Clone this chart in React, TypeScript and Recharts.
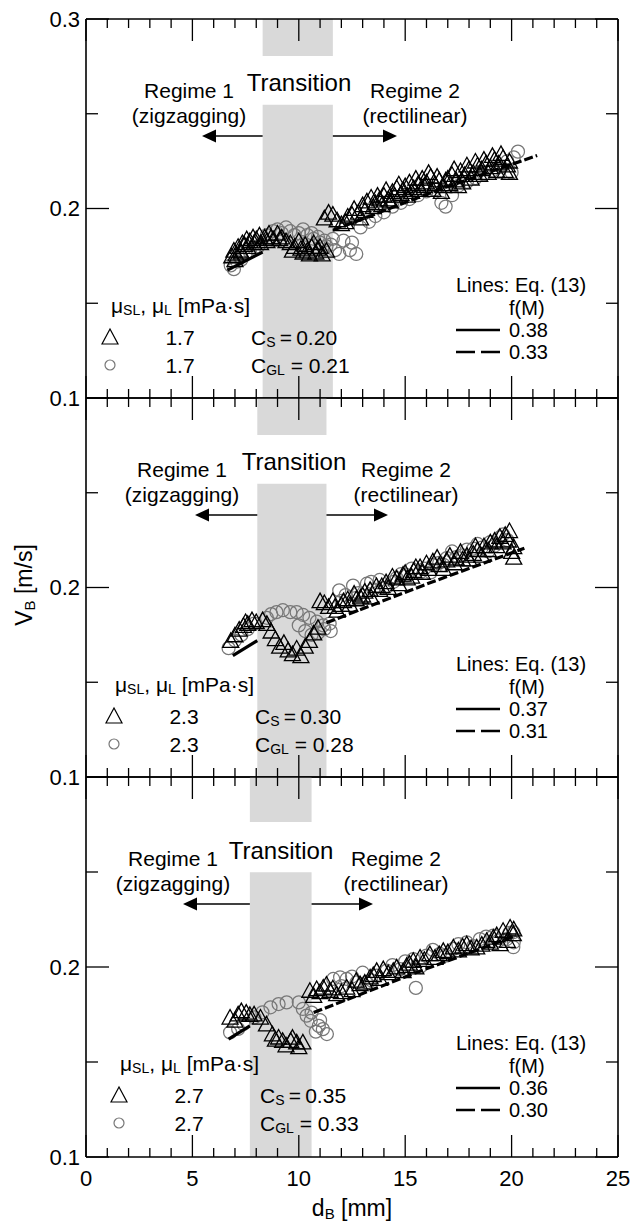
import React from 'react'
import { ScatterChart, Scatter, XAxis, YAxis, ReferenceArea } from 'recharts'

type Pt = [number, number]

const FONT = '"Liberation Sans", Arial, Helvetica, sans-serif'

// axis ticks: minor every 1 mm / 0.05 m/s, labels on the major ones
const X_TICKS = [0, 1, 2, 3, 4, 5, 6, 7, 8, 9, 10, 11, 12, 13, 14, 15, 16, 17, 18, 19, 20, 21, 22, 23, 24, 25]
const X_LABELS = [0, 5, 10, 15, 20, 25]
const Y_TICKS = [0.1, 0.15, 0.2, 0.25, 0.3]
const Y_LABELS = [0.1, 0.2]

// panel 1: μSL = μL = 1.7 mPa·s
const tri1: Pt[] = [
  [6.85, 0.174], [6.95, 0.177], [7.0, 0.172], [7.05, 0.175], [7.15, 0.179], [7.25, 0.177], [7.3, 0.176],
  [7.35, 0.181], [7.45, 0.18], [7.55, 0.183], [7.6, 0.179], [7.7, 0.182], [7.85, 0.184], [7.9, 0.181],
  [8.0, 0.183], [8.15, 0.185], [8.2, 0.181], [8.4, 0.184], [8.5, 0.182], [8.6, 0.186], [8.7, 0.184],
  [8.8, 0.183], [9.0, 0.186], [9.1, 0.183], [9.2, 0.184], [9.4, 0.182], [9.6, 0.181], [9.7, 0.177],
  [9.8, 0.179], [10.0, 0.182], [10.1, 0.178], [10.2, 0.176], [10.3, 0.18], [10.4, 0.177], [10.5, 0.175],
  [10.6, 0.179], [10.7, 0.181], [10.8, 0.176], [10.9, 0.178], [11.0, 0.179], [11.1, 0.175], [11.3, 0.177],
  [11.2, 0.194], [11.4, 0.197], [11.6, 0.196], [11.8, 0.193], [12.0, 0.191], [12.2, 0.192], [12.3, 0.195],
  [12.5, 0.196], [12.6, 0.199], [12.8, 0.197], [12.9, 0.194], [13.0, 0.201], [13.1, 0.198], [13.2, 0.203],
  [13.4, 0.205], [13.5, 0.2], [13.6, 0.202], [13.7, 0.206], [13.8, 0.204], [13.9, 0.201], [14.0, 0.206],
  [14.1, 0.209], [14.2, 0.204], [14.3, 0.203], [14.4, 0.208], [14.5, 0.206], [14.6, 0.21], [14.7, 0.212],
  [14.8, 0.207], [14.9, 0.209], [15.0, 0.211], [15.1, 0.206], [15.2, 0.213], [15.3, 0.208], [15.4, 0.21],
  [15.5, 0.215], [15.6, 0.212], [15.7, 0.209], [15.8, 0.215], [15.9, 0.211], [16.0, 0.213], [16.1, 0.218],
  [16.2, 0.216], [16.3, 0.209], [16.4, 0.212], [16.5, 0.216], [16.6, 0.214], [16.7, 0.208], [16.8, 0.211],
  [16.9, 0.214], [17.0, 0.215], [17.1, 0.212], [17.2, 0.217], [17.3, 0.22], [17.4, 0.214], [17.5, 0.211],
  [17.6, 0.219], [17.7, 0.213], [17.8, 0.217], [17.9, 0.222], [18.0, 0.22], [18.1, 0.215], [18.2, 0.218],
  [18.3, 0.224], [18.4, 0.222], [18.5, 0.217], [18.6, 0.22], [18.7, 0.225], [18.8, 0.223], [18.9, 0.218],
  [19.0, 0.221], [19.1, 0.227], [19.2, 0.225], [19.3, 0.219], [19.4, 0.223], [19.5, 0.228], [19.6, 0.226],
  [19.7, 0.219], [19.8, 0.222], [19.9, 0.218], [19.9, 0.224],
]
const circ1: Pt[] = [
  [6.8, 0.17], [6.95, 0.168], [7.1, 0.172], [7.3, 0.173], [7.5, 0.176], [7.7, 0.177], [7.9, 0.179], [8.1, 0.18],
  [8.5, 0.186], [8.8, 0.188], [9.0, 0.189], [9.2, 0.187], [9.4, 0.19], [9.6, 0.188], [9.8, 0.186], [10.0, 0.187],
  [10.2, 0.189], [10.4, 0.186], [10.6, 0.187], [10.7, 0.184], [10.9, 0.185], [11.0, 0.182], [11.2, 0.183],
  [11.3, 0.18], [11.5, 0.181], [11.7, 0.178], [11.9, 0.176], [11.6, 0.184], [12.1, 0.183], [12.4, 0.178],
  [12.7, 0.176], [12.5, 0.182], [12.9, 0.19], [13.3, 0.193], [13.6, 0.196], [14.0, 0.198], [14.4, 0.201],
  [14.8, 0.203], [15.2, 0.205], [15.6, 0.207], [16.0, 0.209], [16.4, 0.21], [16.7, 0.203], [16.9, 0.201],
  [17.2, 0.207], [17.5, 0.212], [17.9, 0.214], [18.3, 0.216], [18.7, 0.218], [19.1, 0.22], [19.5, 0.222],
  [19.8, 0.225], [20.1, 0.227], [20.3, 0.23], [20.0, 0.219],
]
const solid1: Pt[] = [[6.65, 0.1675], [8.3, 0.177]]
const dashed1: Pt[] = [[11.6, 0.1885], [16.4, 0.2092], [21.2, 0.228]]

// panel 2: μSL = μL = 2.3 mPa·s
const tri2: Pt[] = [
  [6.8, 0.171], [7.0, 0.174], [7.2, 0.177], [7.4, 0.179], [7.5, 0.181], [7.6, 0.18], [7.8, 0.182], [8.0, 0.181],
  [8.3, 0.182], [8.5, 0.18], [8.7, 0.176], [8.9, 0.172], [9.1, 0.168], [9.3, 0.17], [9.5, 0.166], [9.7, 0.164],
  [9.9, 0.167], [10.1, 0.163], [10.3, 0.168], [10.5, 0.171], [10.7, 0.175], [10.9, 0.178], [11.0, 0.192],
  [11.2, 0.191], [11.4, 0.189], [11.6, 0.192], [11.7, 0.189], [11.8, 0.187], [12.0, 0.19], [12.1, 0.192],
  [12.3, 0.193], [12.4, 0.19], [12.6, 0.196], [12.7, 0.193], [12.9, 0.194], [13.0, 0.195], [13.1, 0.197],
  [13.35, 0.198], [13.4, 0.194], [13.65, 0.2], [13.8, 0.198], [13.9, 0.2], [14.1, 0.202], [14.2, 0.199],
  [14.4, 0.205], [14.6, 0.204], [14.7, 0.201], [14.9, 0.206], [15.0, 0.207], [15.1, 0.204], [15.3, 0.205],
  [15.4, 0.208], [15.5, 0.21], [15.7, 0.21], [15.8, 0.207], [16.0, 0.212], [16.1, 0.209], [16.3, 0.213],
  [16.5, 0.215], [16.6, 0.211], [16.8, 0.209], [16.95, 0.2135], [17.1, 0.216], [17.3, 0.212], [17.4, 0.2145],
  [17.6, 0.218], [17.7, 0.214], [17.9, 0.216], [18.0, 0.214], [18.2, 0.217], [18.3, 0.221], [18.4, 0.219],
  [18.6, 0.216], [18.7, 0.221], [18.9, 0.219], [19.0, 0.223], [19.2, 0.224], [19.3, 0.221], [19.45, 0.226],
  [19.6, 0.223], [19.7, 0.227], [19.85, 0.224], [19.9, 0.229], [20.0, 0.218], [20.1, 0.2205], [20.1, 0.215],
]
const circ2: Pt[] = [
  [6.7, 0.168], [7.0, 0.172], [7.3, 0.175], [7.6, 0.178], [7.9, 0.181], [8.5, 0.184], [8.7, 0.186],
  [8.95, 0.187], [9.25, 0.188], [9.6, 0.187], [9.9, 0.187], [10.2, 0.1855], [10.5, 0.184], [10.85, 0.182],
  [11.15, 0.18], [11.45, 0.181], [10.0, 0.18], [10.3, 0.177], [10.6, 0.175], [10.9, 0.176], [11.2, 0.178],
  [11.5, 0.177], [11.9, 0.1985], [12.0, 0.193], [12.2, 0.196], [12.55, 0.201], [12.8, 0.197], [13.2, 0.202],
  [13.4, 0.203], [13.5, 0.199], [13.8, 0.204], [14.1, 0.2], [14.45, 0.203], [14.6, 0.205], [14.8, 0.207],
  [15.1, 0.2065], [15.3, 0.21], [15.7, 0.208], [15.9, 0.21], [16.2, 0.208], [16.3, 0.212], [16.6, 0.213],
  [16.8, 0.212], [16.95, 0.2155], [17.2, 0.219], [17.4, 0.216], [17.7, 0.217], [17.9, 0.22], [18.2, 0.2205],
  [18.4, 0.223], [18.6, 0.221], [18.9, 0.219], [19.0, 0.224], [19.2, 0.222], [19.45, 0.2265], [19.6, 0.228],
  [19.8, 0.225],
]
const solid2: Pt[] = [[6.9, 0.164], [8.05, 0.172]]
const dashed2: Pt[] = [[11.3, 0.1814], [16.0, 0.2018], [20.6, 0.2207]]

// panel 3: μSL = μL = 2.7 mPa·s
const tri3: Pt[] = [
  [6.77, 0.1726], [7.0, 0.171], [7.15, 0.1743], [7.3, 0.176], [7.53, 0.1752], [7.7, 0.174], [7.9, 0.1743],
  [8.2, 0.1726], [8.48, 0.169], [8.76, 0.1638], [8.9, 0.161], [9.05, 0.1621], [9.24, 0.1603], [9.4, 0.158],
  [9.62, 0.1603], [9.7, 0.162], [9.9, 0.1595], [10.0, 0.157], [10.19, 0.1595], [10.52, 0.1867], [10.7, 0.184],
  [10.84, 0.1876], [11.0, 0.186], [11.15, 0.1884], [11.3, 0.19], [11.47, 0.1867], [11.6, 0.188],
  [11.78, 0.1849], [12.0, 0.186], [12.25, 0.1884], [12.5, 0.187], [12.7, 0.192], [12.88, 0.1902], [13.1, 0.191],
  [13.35, 0.1937], [13.5, 0.195], [13.66, 0.1972], [13.8, 0.193], [13.97, 0.1981], [14.2, 0.196],
  [14.44, 0.1972], [14.6, 0.199], [14.9, 0.197], [15.07, 0.1998], [15.2, 0.201], [15.38, 0.2025], [15.5, 0.199],
  [15.7, 0.2042], [15.9, 0.203], [16.16, 0.206], [16.4, 0.204], [16.6, 0.206], [16.79, 0.2077], [17.0, 0.207],
  [17.26, 0.2095], [17.5, 0.208], [17.7, 0.21], [17.89, 0.2112], [18.1, 0.209], [18.36, 0.2095], [18.6, 0.211],
  [18.83, 0.213], [19.0, 0.212], [19.14, 0.2147], [19.3, 0.216], [19.46, 0.2112], [19.6, 0.2183],
  [19.8, 0.213], [19.93, 0.22], [20.08, 0.2165], [20.1, 0.219],
]
const circ3: Pt[] = [
  [6.77, 0.1656], [7.15, 0.1674], [7.4, 0.17], [7.91, 0.1735], [8.29, 0.1761], [8.67, 0.1788], [9.05, 0.1805],
  [9.43, 0.1814], [10.0, 0.1814], [10.19, 0.1779], [10.37, 0.1744], [10.56, 0.1717], [10.6, 0.176],
  [10.8, 0.166], [10.94, 0.169], [11.0, 0.172], [11.13, 0.1673], [11.32, 0.1647], [11.62, 0.1937],
  [11.94, 0.1946], [12.0, 0.19], [12.25, 0.1937], [12.5, 0.195], [12.72, 0.1919], [13.0, 0.197],
  [13.19, 0.1919], [13.4, 0.193], [13.66, 0.1954], [14.13, 0.1981], [14.4, 0.201], [14.76, 0.1989],
  [15.0, 0.203], [15.38, 0.2042], [15.5, 0.189], [15.7, 0.2], [16.0, 0.206], [16.3, 0.209], [16.63, 0.2069],
  [16.9, 0.206], [17.26, 0.2095], [17.5, 0.212], [17.89, 0.213], [18.2, 0.211], [18.51, 0.2147], [18.8, 0.216],
  [19.14, 0.2165], [19.4, 0.214], [19.77, 0.2147], [19.9, 0.218], [20.08, 0.2104], [20.08, 0.2183], [20.1, 0.213],
]
const solid3: Pt[] = [[6.7, 0.162], [7.7, 0.169]]
const dashed3: Pt[] = [[10.7, 0.176], [15.5, 0.197], [20.2, 0.2165]]

// transition band limits [mm]
const BANDS: Pt[] = [[8.3, 11.6], [8.05, 11.3], [7.7, 10.6]]

const VISC = ['1.7', '2.3', '2.7']
const CS = ['0.20', '0.30', '0.35']
const CGL = ['0.21', '0.28', '0.33']
const F_SOLID = ['0.38', '0.37', '0.36']
const F_DASH = ['0.33', '0.31', '0.30']

const TRI = [tri1, tri2, tri3]
const CIRC = [circ1, circ2, circ3]
const SOLID = [solid1, solid2, solid3]
const DASHED = [dashed1, dashed2, dashed3]

// page geometry
const W = 631
const H = 1221
const PLOT_L = 86
const PLOT_R = 618
const PANEL_TOP = [19, 398, 777]
const PANEL_H = [379, 379, 380]
const TOP_AX = 19
const BOT_AX = 60

const px = (x: number) => PLOT_L + (x / 25) * (PLOT_R - PLOT_L)
const toXY = (pts: Pt[]) => pts.map(([x, y]) => ({ x, y }))

const isMajorY = (v: number) => Math.abs(v * 10 - Math.round(v * 10)) < 1e-6

function TriangleMark(props: any) {
  const { cx, cy } = props
  if (cx == null || cy == null) return <g />
  return (
    <polygon
      points={`${cx},${cy - 9.5} ${cx - 8},${cy + 5} ${cx + 8},${cy + 5}`}
      fill="none"
      stroke="#000"
      strokeWidth={1.3}
    />
  )
}

function CircleMark(props: any) {
  const { cx, cy } = props
  if (cx == null || cy == null) return <g />
  return <circle cx={cx} cy={cy} r={6.5} fill="none" stroke="#777" strokeWidth={1.25} />
}

const NoMark = () => <g />

function Panel({ idx }: { idx: number }) {
  const ph = PANEL_H[idx]
  const [b0, b1] = BANDS[idx]
  const gapTop = idx === 2 ? 0.2763 : 0.2805
  const gapBot = idx === 2 ? 0.2499 : 0.2547
  const yLabels = idx === 0 ? [...Y_LABELS, 0.3] : Y_LABELS
  const axisLine = { stroke: '#000', strokeWidth: 1.6 }

  const bottomTick = (p: any) => {
    const v = p.payload.value
    const major = v % 5 === 0
    return (
      <g>
        <line x1={p.x} x2={p.x} y1={p.y} y2={p.y - (major ? 22 : 9)} stroke="#000" strokeWidth={1.3} />
        {idx === 2 && X_LABELS.includes(v) && (
          <text x={p.x} y={p.y + 21} textAnchor="middle" dominantBaseline="central" fontSize={22} fontFamily={FONT} fill="#000">
            {v}
          </text>
        )}
      </g>
    )
  }
  const topTick = (p: any) => {
    const major = p.payload.value % 5 === 0
    return <line x1={p.x} x2={p.x} y1={p.y} y2={p.y + (major ? 22 : 9)} stroke="#000" strokeWidth={1.3} />
  }
  const leftTick = (p: any) => {
    const v = p.payload.value
    const major = isMajorY(v)
    const show = yLabels.some((l) => Math.abs(l - v) < 1e-6)
    return (
      <g>
        <line x1={p.x} x2={p.x + (major ? 23 : 12)} y1={p.y} y2={p.y} stroke="#000" strokeWidth={1.3} />
        {show && (
          <text x={p.x - 6} y={p.y} textAnchor="end" dominantBaseline="central" fontSize={22} fontFamily={FONT} fill="#000">
            {v.toFixed(1)}
          </text>
        )}
      </g>
    )
  }
  const rightTick = (p: any) => {
    const major = isMajorY(p.payload.value)
    return <line x1={p.x} x2={p.x - (major ? 23 : 12)} y1={p.y} y2={p.y} stroke="#000" strokeWidth={1.3} />
  }

  return (
    <div style={{ position: 'absolute', left: 0, top: PANEL_TOP[idx] - TOP_AX }}>
      <ScatterChart width={W} height={ph + TOP_AX + BOT_AX} margin={{ top: 0, right: 0, bottom: 0, left: 0 }}>
        <XAxis xAxisId="b" type="number" dataKey="x" domain={[0, 25]} ticks={X_TICKS} interval={0}
          orientation="bottom" height={BOT_AX} tickSize={0} tickMargin={0} axisLine={axisLine} tick={bottomTick} allowDataOverflow />
        <XAxis xAxisId="t" type="number" dataKey="x" domain={[0, 25]} ticks={X_TICKS} interval={0}
          orientation="top" height={TOP_AX} tickSize={0} tickMargin={0} axisLine={axisLine} tick={topTick} allowDataOverflow />
        <YAxis yAxisId="l" type="number" dataKey="y" domain={[0.1, 0.3]} ticks={Y_TICKS} interval={0}
          width={PLOT_L} tickSize={0} tickMargin={0} axisLine={axisLine} tick={leftTick} allowDataOverflow />
        <YAxis yAxisId="r" type="number" dataKey="y" domain={[0.1, 0.3]} ticks={Y_TICKS} interval={0} orientation="right"
          width={W - PLOT_R} tickSize={0} tickMargin={0} axisLine={axisLine} tick={rightTick} allowDataOverflow />

        <ReferenceArea xAxisId="b" yAxisId="l" x1={b0} x2={b1} y1={0.1} y2={gapBot} fill="#d9d9d9" fillOpacity={1} stroke="none" ifOverflow="visible" />
        <ReferenceArea xAxisId="b" yAxisId="l" x1={b0} x2={b1} y1={gapTop} y2={0.3} fill="#d9d9d9" fillOpacity={1} stroke="none" ifOverflow="visible" />

        <Scatter xAxisId="b" yAxisId="l" data={toXY(CIRC[idx])} shape={CircleMark} isAnimationActive={false} />
        <Scatter xAxisId="b" yAxisId="l" data={toXY(TRI[idx])} shape={TriangleMark} isAnimationActive={false} />
        <Scatter xAxisId="b" yAxisId="l" data={toXY(SOLID[idx])} shape={NoMark} line={{ stroke: '#000', strokeWidth: 3.2 }} lineType="joint" isAnimationActive={false} />
        <Scatter xAxisId="b" yAxisId="l" data={toXY(DASHED[idx])} shape={NoMark} line={{ stroke: '#000', strokeWidth: 3.2, strokeDasharray: '9 3' }} lineType="joint" isAnimationActive={false} />
      </ScatterChart>
    </div>
  )
}

function Annotations() {
  const t = { fontFamily: FONT, fill: '#000' }
  const sub = { fontSize: 14 }
  // per-panel offsets of the annotation block
  const dy = [0, 0, 10]
  const dxText = [0, -7, -16]
  const dxLeg = [0, 4, 9]
  const tipL = [202, 195, 183]
  const tipR = [397, 388, 373]
  const transX = [299, 294, 281]
  const reg2X = [415, 406, 396]

  return (
    <svg width={W} height={H} style={{ position: 'absolute', left: 0, top: 0, pointerEvents: 'none' }}>
      {PANEL_TOP.map((T, i) => {
        const y0 = T + dy[i]
        const ay = y0 + 117
        const bl = px(BANDS[i][0])
        const br = px(BANDS[i][1])
        const lx = dxLeg[i]
        return (
          <g key={i} {...t}>
            <text x={transX[i]} y={y0 + 63} fontSize={24} textAnchor="middle" dominantBaseline="central">Transition</text>
            <text x={189 + dxText[i]} y={y0 + 71} fontSize={21} textAnchor="middle" dominantBaseline="central">Regime 1</text>
            <text x={189 + dxText[i]} y={y0 + 96} fontSize={21} textAnchor="middle" dominantBaseline="central">(zigzagging)</text>
            <text x={reg2X[i]} y={y0 + 71} fontSize={21} textAnchor="middle" dominantBaseline="central">Regime 2</text>
            <text x={reg2X[i]} y={y0 + 96} fontSize={21} textAnchor="middle" dominantBaseline="central">(rectilinear)</text>

            <line x1={tipL[i] + 10} x2={bl} y1={ay} y2={ay} stroke="#000" strokeWidth={1.5} />
            <polygon points={`${tipL[i]},${ay} ${tipL[i] + 14},${ay - 6.5} ${tipL[i] + 14},${ay + 6.5}`} fill="#000" />
            <line x1={br} x2={tipR[i] - 10} y1={ay} y2={ay} stroke="#000" strokeWidth={1.5} />
            <polygon points={`${tipR[i]},${ay} ${tipR[i] - 14},${ay - 6.5} ${tipR[i] - 14},${ay + 6.5}`} fill="#000" />

            {/* symbols legend */}
            <text x={111 + lx} y={T + 286} fontSize={21} dominantBaseline="central">
              μ<tspan {...sub} dy={5}>SL</tspan><tspan dy={-5}>, μ</tspan><tspan {...sub} dy={5}>L</tspan><tspan dy={-5}> [mPa·s]</tspan>
            </text>
            <polygon
              points={`${110 + lx},${T + 310} ${102 + lx},${T + 325} ${118 + lx},${T + 325}`}
              fill="none" stroke="#000" strokeWidth={1.2}
            />
            <text x={180 + lx} y={T + 318} fontSize={21} textAnchor="middle" dominantBaseline="central">{VISC[i]}</text>
            <text x={251 + lx} y={T + 318} fontSize={21} dominantBaseline="central">
              C<tspan {...sub} dy={5}>S</tspan><tspan dy={-5}>{'\u2009=\u2009'}{CS[i]}</tspan>
            </text>
            <circle cx={110 + lx} cy={T + 346} r={5} fill="none" stroke="#777" strokeWidth={1.2} />
            <text x={180 + lx} y={T + 346} fontSize={21} textAnchor="middle" dominantBaseline="central">{VISC[i]}</text>
            <text x={251 + lx} y={T + 346} fontSize={21} dominantBaseline="central">
              C<tspan {...sub} dy={5}>GL</tspan><tspan dy={-5}> = {CGL[i]}</tspan>
            </text>

            {/* line legend */}
            <text x={456} y={T + 266} fontSize={20} dominantBaseline="central">Lines: Eq. (13)</text>
            <text x={509} y={T + 289} fontSize={20} dominantBaseline="central">f(M)</text>
            <line x1={456} x2={500} y1={T + 311} y2={T + 311} stroke="#000" strokeWidth={2.6} />
            <text x={509} y={T + 311} fontSize={20} dominantBaseline="central">{F_SOLID[i]}</text>
            <line x1={456} x2={500} y1={T + 333} y2={T + 333} stroke="#000" strokeWidth={2.6} strokeDasharray="19 6" />
            <text x={509} y={T + 333} fontSize={20} dominantBaseline="central">{F_DASH[i]}</text>
          </g>
        )
      })}

      <text x={(PLOT_L + PLOT_R) / 2} y={1208} fontSize={23} textAnchor="middle" dominantBaseline="central" {...t}>
        d<tspan fontSize={15} dy={5}>B</tspan><tspan dy={-5}> [mm]</tspan>
      </text>
      <text x={24} y={585} fontSize={23} textAnchor="middle" dominantBaseline="central" transform="rotate(-90 24 585)" {...t}>
        V<tspan fontSize={15} dy={5}>B</tspan><tspan dy={-5}> [m/s]</tspan>
      </text>
    </svg>
  )
}

export default function App() {
  return (
    <div style={{ position: 'absolute', left: 0, top: 0, width: W, height: H, background: '#fff', fontFamily: FONT }}>
      <Panel idx={0} />
      <Panel idx={1} />
      <Panel idx={2} />
      <Annotations />
    </div>
  )
}
